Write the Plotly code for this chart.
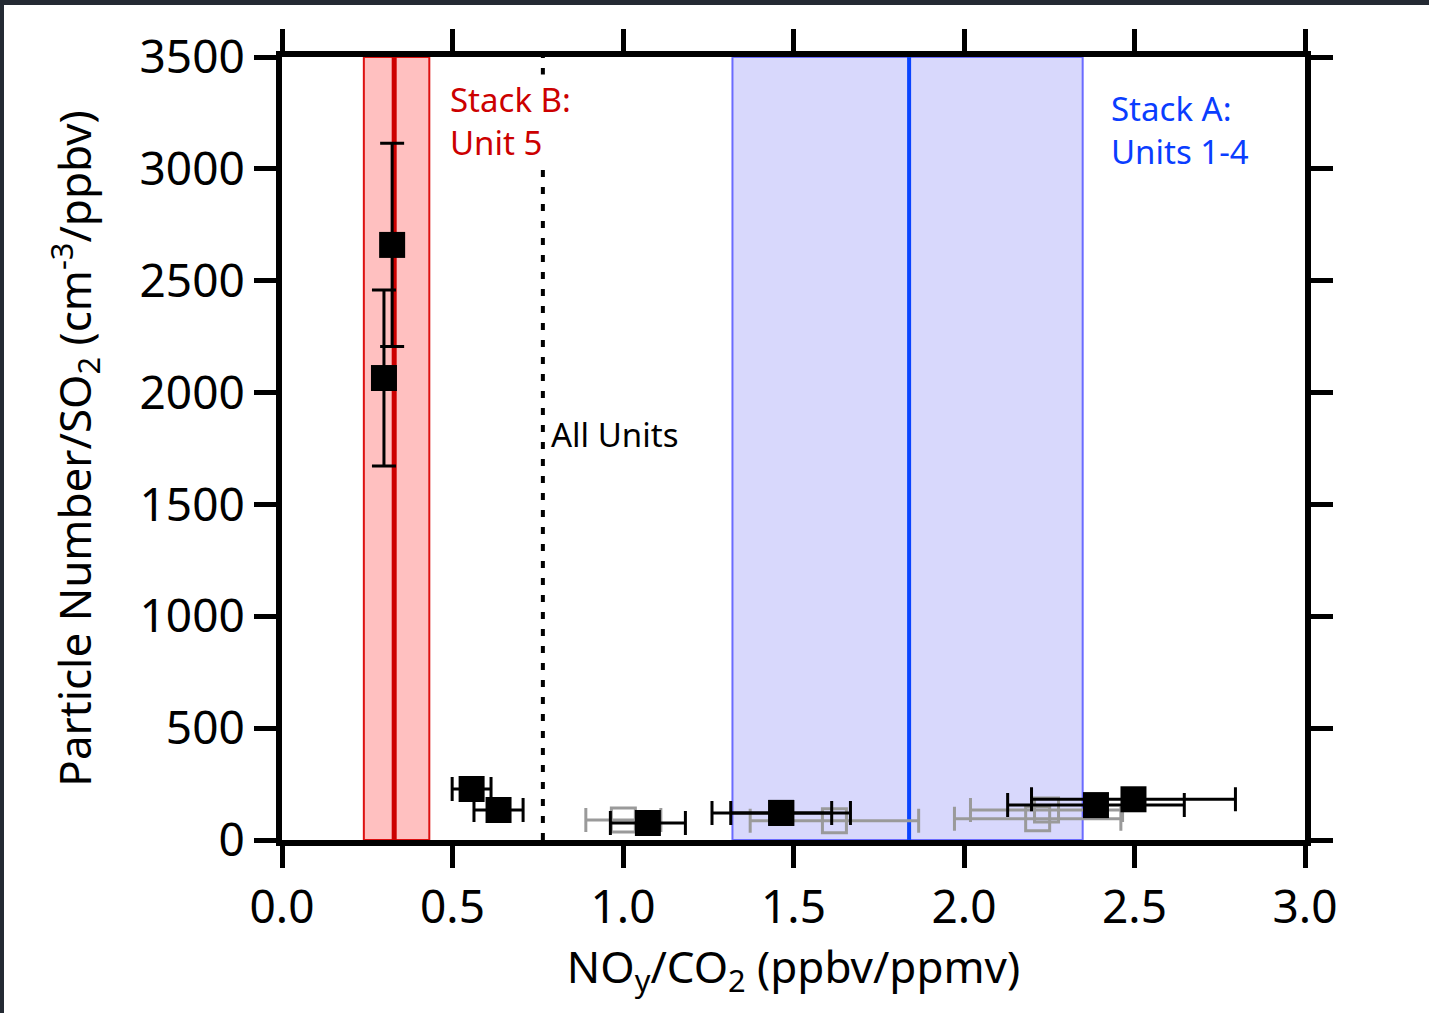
import plotly.graph_objects as go

# ---- data ----
# Black filled points (vertical error bars only)
bv_x = [0.299, 0.323]
bv_y = [2065, 2660]
bv_yerr = [393, 454]

# Black filled points (horizontal error bars)
bh_x = [0.556, 0.635, 1.073, 1.464, 1.464, 2.387, 2.497]
bh_y = [228, 134, 76, 121, 121, 156, 182]
bh_xerr = [0.057, 0.072, 0.110, 0.203, 0.148, 0.259, 0.299]

# Grey open points (horizontal error bars)
g_x = [1.001, 1.620, 2.216, 2.242]
g_y = [89, 86, 95, 134]
g_xerr = [0.110, 0.247, 0.244, 0.223]

# Stack bands (center, low, high)
stackB = [0.329, 0.240, 0.432]
stackA = [1.839, 1.321, 2.348]
all_units = 0.765

x_ticks = [0.0, 0.5, 1.0, 1.5, 2.0, 2.5, 3.0]
x_ticktext = ["0.0", "0.5", "1.0", "1.5", "2.0", "2.5", "3.0"]
y_ticks = [0, 500, 1000, 1500, 2000, 2500, 3000, 3500]

FONT = "Noto Sans"

fig = go.Figure()

fig.add_trace(go.Scatter(
    x=g_x, y=g_y, mode="markers",
    marker=dict(symbol="square-open", size=24, color="#9a9a9a", line=dict(width=3, color="#9a9a9a")),
    error_x=dict(type="data", array=g_xerr, color="#9a9a9a", thickness=3, width=12),
    showlegend=False))

fig.add_trace(go.Scatter(
    x=bh_x, y=bh_y, mode="markers",
    marker=dict(symbol="square", size=26, color="black", line=dict(width=0)),
    error_x=dict(type="data", array=bh_xerr, color="black", thickness=3, width=12),
    showlegend=False))

fig.add_trace(go.Scatter(
    x=bv_x, y=bv_y, mode="markers",
    marker=dict(symbol="square", size=26, color="black", line=dict(width=0)),
    error_y=dict(type="data", array=bv_yerr, color="black", thickness=3, width=12),
    showlegend=False))

# plot geometry (pixels) for the dark frame of the screenshot
L, R, T, B = 282, 124, 57, 173
W, H = 1429, 1013
pw, ph = W - L - R, H - T - B

def px(xp):
    return (xp - L) / pw

def py(yp):
    return (H - B - yp) / ph

shapes = [
    dict(type="rect", xref="paper", yref="paper", x0=px(4), x1=px(W + 5), y0=py(5), y1=py(H + 5),
         fillcolor="white", line=dict(width=0), layer="below"),
    dict(type="rect", xref="x", yref="y", x0=stackB[1], x1=stackB[2], y0=0, y1=3500,
         fillcolor="#ffc0c0", line=dict(color="#dd1111", width=2), layer="below"),
    dict(type="line", xref="x", yref="y", x0=stackB[0], x1=stackB[0], y0=0, y1=3500,
         line=dict(color="#cc0000", width=5), layer="below"),
    dict(type="rect", xref="x", yref="y", x0=stackA[1], x1=stackA[2], y0=0, y1=3500,
         fillcolor="#d8d8fc", line=dict(color="#6b6bff", width=2), layer="below"),
    dict(type="line", xref="x", yref="y", x0=stackA[0], x1=stackA[0], y0=0, y1=3500,
         line=dict(color="#0a44ff", width=4), layer="below"),
    dict(type="line", xref="x", yref="y", x0=all_units, x1=all_units, y0=0, y1=3500,
         line=dict(color="black", width=4, dash="7px,10px"), layer="below"),
]

annotations = [
    dict(x=0.484, y=3216, xref="x", yref="y", xanchor="left", yanchor="middle", align="left",
         text="Stack B:<br>Unit 5", showarrow=False, bgcolor="white", borderpad=2,
         font=dict(family=FONT, size=33, color="#cc0000")),
    dict(x=2.424, y=3172, xref="x", yref="y", xanchor="left", yanchor="middle", align="left",
         text="Stack A:<br>Units 1-4", showarrow=False,
         font=dict(family=FONT, size=33, color="#0a3dff")),
    dict(x=0.783, y=1814, xref="x", yref="y", xanchor="left", yanchor="middle", align="left",
         text="All Units", showarrow=False,
         font=dict(family=FONT, size=33, color="black")),
]

fig.update_layout(
    width=W, height=H,
    margin=dict(l=L, r=R, t=T, b=B, pad=0),
    paper_bgcolor="#242a33",
    plot_bgcolor="white",
    shapes=shapes,
    annotations=annotations,
    font=dict(family=FONT, color="black"),
    xaxis=dict(range=[0, 3.0], tickvals=x_ticks, ticktext=x_ticktext,
               showline=True, linewidth=6, linecolor="black", mirror="allticks",
               ticks="outside", ticklen=22, tickwidth=5, tickcolor="black",
               showgrid=False, zeroline=False,
               tickfont=dict(family=FONT, size=46, color="black"),
               title=dict(text="NO<sub>y</sub>/CO<sub>2</sub> (ppbv/ppmv)",
                          font=dict(family=FONT, size=44, color="black"), standoff=4)),
    yaxis=dict(range=[0, 3500], tickvals=y_ticks,
               showline=True, linewidth=6, linecolor="black", mirror="allticks",
               ticks="outside", ticklen=22, tickwidth=5, tickcolor="black",
               showgrid=False, zeroline=False,
               tickfont=dict(family=FONT, size=46, color="black"),
               title=dict(text="Particle Number/SO<sub>2</sub> (cm<sup>-3</sup>/ppbv)",
                          font=dict(family=FONT, size=44, color="black"), standoff=36)),
)

fig.write_html("out.html")
